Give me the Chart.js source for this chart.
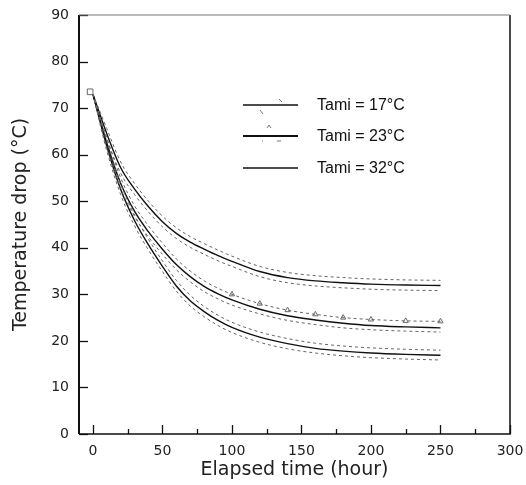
<!DOCTYPE html>
<html><head><meta charset="utf-8">
<script src="https://cdn.jsdelivr.net/npm/chart.js@4/dist/chart.umd.min.js"></script>
<style>html,body{margin:0;padding:0;background:#fff;}</style>
</head><body>
<canvas id="c" width="526" height="485"></canvas>
<script>
// ---- data ----
const time = [0,10,20,30,40,50,60,70,80,90,100,120,140,160,180,200,225,250];
// model (solid) curves
const model32 = [73,64.5,57.2,52.6,48.8,45.6,43.1,41.2,39.7,38.3,37.1,34.9,33.6,32.9,32.5,32.2,32,31.9];
const model23 = [73,62.5,53.8,47.8,43.4,39.7,36.4,33.8,31.7,30.1,28.8,26.8,25.4,24.5,23.8,23.3,23,22.8];
const model17 = [73,61.8,52.5,45.8,40.6,36,31.8,28.6,26.3,24.4,22.9,20.8,19.4,18.4,17.8,17.4,17.1,16.9];
// measured (dashed) bands
const meas32Hi = [73,65.6,58.4,53.8,50,46.8,44.3,42.4,40.9,39.5,38.2,36,34.7,34,33.6,33.3,33.1,33];
const meas32Lo = [73,63.4,56,51.4,47.7,44.5,42,40.1,38.6,37.2,36,33.8,32.5,31.8,31.4,31.1,30.9,30.8];
const meas23Hi = [73,63.6,55,49,44.7,41,37.6,35,32.9,31.3,30,28,26.6,25.7,25,24.6,24.3,24.2];
const meas23Lo = [73,61.5,52.7,46.7,42.3,38.6,35.3,32.7,30.6,29,27.7,25.8,24.4,23.5,22.8,22.4,22.1,21.9];
const meas17Hi = [73,62.9,53.7,47,41.8,37.2,33,29.8,27.4,25.5,24,21.9,20.5,19.5,18.9,18.5,18.2,18];
const meas17Lo = [73,60.8,51.4,44.7,39.5,34.9,30.7,27.5,25.2,23.3,21.8,19.7,18.3,17.4,16.8,16.4,16.1,15.9];
const startX = [-2];
const startY = [73.5];
const legendLabels = ['Tami = 17°C','Tami = 23°C','Tami = 32°C'];
const xTicks = [0,25,50,75,100,125,150,175,200,225,250,275,300];
const yTicks = [0,10,20,30,40,50,60,70,80,90];
const xTitle = 'Elapsed time (hour)';
const yTitle = 'Temperature drop (°C)';

const pts = arr => time.map((t,i)=>({x:t,y:arr[i]}));
const solid = (label,arr)=>({label,data:pts(arr),borderColor:'#111',borderWidth:1.4,pointRadius:0,cubicInterpolationMode:'monotone',fill:false});
const dashed = (label,arr,extra)=>Object.assign({label,data:pts(arr),borderColor:'#666',borderWidth:1,borderDash:[3,3],pointRadius:0,cubicInterpolationMode:'monotone',fill:false},extra||{});

const datasets = [
  dashed('meas32Hi',meas32Hi), dashed('meas32Lo',meas32Lo),
  dashed('meas23Hi',meas23Hi,{pointStyle:'triangle',pointRadius:time.map(t=>t>=100?3:0),pointBorderColor:'#666',pointBackgroundColor:'rgba(0,0,0,0)',pointBorderWidth:1}),
  dashed('meas23Lo',meas23Lo),
  dashed('meas17Hi',meas17Hi), dashed('meas17Lo',meas17Lo),
  solid(legendLabels[2],model32), solid(legendLabels[1],model23), solid(legendLabels[0],model17),
  {type:'scatter',label:'start',data:startX.map((x,i)=>({x,y:startY[i]})),pointStyle:'rect',pointRadius:4,borderColor:'#666',borderWidth:1,backgroundColor:'rgba(0,0,0,0)'}
];

const framePlugin = {
  id:'frame',
  beforeDraw(chart){const c=chart.ctx;c.save();c.fillStyle='#fff';c.fillRect(0,0,chart.width,chart.height);c.restore();},
  afterDraw(chart){
    const c=chart.ctx, a=chart.chartArea, x=chart.scales.x, y=chart.scales.y;
    c.save();
    c.strokeStyle='#111';
    c.lineWidth=1.3;
    yTicks.forEach(v=>{const p=Math.round(y.getPixelForValue(v))+0.5;c.beginPath();c.moveTo(a.left,p);c.lineTo(a.left+9,p);c.stroke();});
    xTicks.forEach(v=>{const p=Math.round(x.getPixelForValue(v))+0.5;const L=(v%50===0)?9:5;c.beginPath();c.moveTo(p,a.bottom);c.lineTo(p,a.bottom-L);c.stroke();});
    // frame
    c.lineWidth=2; c.beginPath();c.moveTo(a.left,a.top);c.lineTo(a.left,a.bottom);c.stroke();
    c.lineWidth=1.5; c.beginPath();c.moveTo(a.left,a.bottom);c.lineTo(a.right,a.bottom);c.lineTo(a.right,a.top);c.stroke();
    c.strokeStyle='#777';c.lineWidth=1.2;c.beginPath();c.moveTo(a.left,a.top);c.lineTo(a.right,a.top);c.stroke();
    // legend
    const rows=[105,136,168];
    c.font='16px "Liberation Sans", Arial, sans-serif';
    c.fillStyle='#111';c.textBaseline='middle';c.textAlign='left';
    rows.forEach((ry,i)=>{
      c.strokeStyle='#111';c.lineWidth=i===1?2:1.4;c.setLineDash([]);
      c.beginPath();c.moveTo(243,ry);c.lineTo(298,ry);c.stroke();
      c.fillText(legendLabels[i],317,ry+1);
    });
    c.strokeStyle='#777';c.lineWidth=1;
    c.beginPath();c.moveTo(279,99);c.lineTo(282,102);c.moveTo(260,110);c.lineTo(263,114);c.stroke();
    c.beginPath();c.moveTo(267,128);c.lineTo(269,125);c.lineTo(271,128);c.moveTo(262,141);c.lineTo(263,141);c.moveTo(277,141);c.lineTo(281,141);c.stroke();
    c.restore();
  }
};

new Chart(document.getElementById('c'),{
  type:'line',
  data:{datasets},
  options:{
    responsive:false, animation:false, parsing:true,
    layout:{padding:{left:10,right:16,top:15,bottom:4}},
    plugins:{legend:{display:false},tooltip:{enabled:false}},
    scales:{
      x:{type:'linear',min:-10,max:300,
        afterBuildTicks:s=>{s.ticks=xTicks.map(v=>({value:v}));},
        afterFit:s=>{s.height=47;s.paddingLeft=0;s.paddingRight=0;},
        grid:{display:false,drawTicks:false},border:{display:false},
        ticks:{padding:9,autoSkip:false,maxRotation:0,color:'#222',font:{family:'DejaVu Sans',size:14},callback:v=>(v%50===0?String(v):'')},
        title:{display:true,text:xTitle,color:'#222',padding:0,font:{family:'DejaVu Sans',size:19}}
      },
      y:{type:'linear',min:0,max:90,
        afterBuildTicks:s=>{s.ticks=yTicks.map(v=>({value:v}));},
        afterFit:s=>{s.width=69;s.paddingTop=0;s.paddingBottom=0;},
        grid:{display:false,drawTicks:false},border:{display:false},
        ticks:{padding:10,color:'#222',font:{family:'DejaVu Sans',size:14}},
        title:{display:true,text:yTitle,color:'#222',padding:0,font:{family:'DejaVu Sans',size:19}}
      }
    }
  },
  plugins:[framePlugin]
});
</script>
</body></html>
